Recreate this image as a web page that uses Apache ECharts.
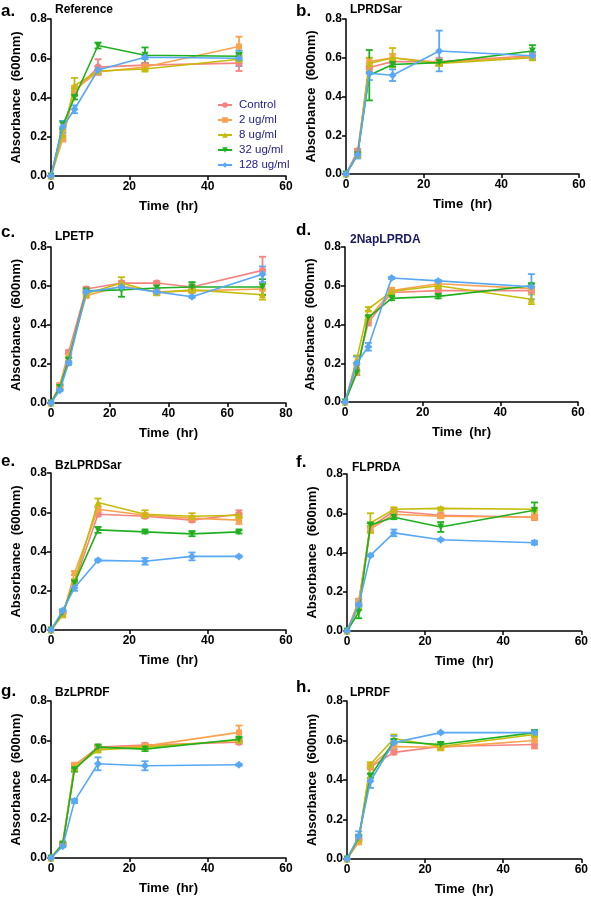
<!DOCTYPE html>
<html><head><meta charset="utf-8">
<script src="https://cdn.jsdelivr.net/npm/echarts@6/dist/echarts.min.js"></script>
<style>html,body{margin:0;padding:0;background:#fff}#c{width:591px;height:897px}</style>
</head><body><div id="c"></div>
<script>
const seriesNames = ['Control','2 ug/ml','8 ug/ml','32 ug/ml','128 ug/ml'];
const seriesColors = ['#F5837F','#FBA24F','#C4BC0A','#1FB01F','#58A8F5'];
const seriesSymbols = ['circle','rect','triangle','triangle','diamond'];
const symbolRotations = [0,0,0,180,0];
const panelLetters = ['a.','b.','c.','d.','e.','f.','g.','h.'];
const panelTitles = ['Reference','LPRDSar','LPETP','2NapLPRDA','BzLPRDSar','FLPRDA','BzLPRDF','LPRDF'];

const times6 = [0,3,6,12,24,48];
const times7 = [0,3,6,12,24,36,48];
const times8 = [0,3,6,12,24,36,48,72];

// a. Reference
const refMean = [
  [0,0.20,0.43,0.555,0.565,0.575],
  [0,0.19,0.44,0.53,0.555,0.66],
  [0,0.21,0.46,0.535,0.545,0.595],
  [0,0.26,0.40,0.665,0.615,0.61],
  [0,0.25,0.34,0.54,0.605,0.60]];
const refErr = [
  [0,0.02,0.02,0.04,0.01,0.04],
  [0,0.015,0.02,0.01,0.01,0.05],
  [0,0.02,0.04,0.01,0.01,0.01],
  [0,0.02,0.01,0.015,0.04,0.02],
  [0,0.03,0.02,0.02,0.01,0.04]];
// b. LPRDSar
const lprdsarMean = [
  [0,0.12,0.55,0.58,0.58,0.61],
  [0,0.10,0.58,0.60,0.575,0.605],
  [0,0.10,0.57,0.60,0.57,0.60],
  [0,0.10,0.51,0.565,0.575,0.635],
  [0,0.10,0.52,0.51,0.635,0.61]];
const lprdsarErr = [
  [0,0.01,0.02,0.01,0.02,0.015],
  [0,0.01,0.02,0.02,0.01,0.01],
  [0,0.01,0.03,0.05,0.01,0.01],
  [0,0.01,0.13,0.01,0.015,0.03],
  [0,0.02,0.035,0.03,0.105,0.02]];
// c. LPETP
const lpetpMean = [
  [0,0.09,0.26,0.585,0.615,0.615,0.595,0.68],
  [0,0.09,0.24,0.55,0.60,0.57,0.575,0.585],
  [0,0.08,0.22,0.56,0.615,0.565,0.58,0.555],
  [0,0.08,0.22,0.575,0.58,0.59,0.595,0.595],
  [0,0.065,0.205,0.57,0.595,0.57,0.545,0.66]];
const lpetpErr = [
  [0,0.01,0.01,0.01,0.01,0.01,0.01,0.07],
  [0,0.01,0.01,0.01,0.01,0.015,0.01,0.03],
  [0,0.01,0.01,0.01,0.03,0.01,0.01,0.025],
  [0,0.01,0.01,0.01,0.035,0.025,0.025,0.04],
  [0,0.005,0.01,0.01,0.01,0.01,0.005,0.04]];
// d. 2NapLPRDA
const napMean = [
  [0,0.17,0.41,0.565,0.575,0.575],
  [0,0.15,0.43,0.575,0.61,0.585],
  [0,0.22,0.48,0.57,0.60,0.53],
  [0,0.15,0.435,0.535,0.545,0.60],
  [0,0.20,0.285,0.64,0.625,0.595]];
const napErr = [
  [0,0.02,0.015,0.01,0.01,0.01],
  [0,0.01,0.01,0.015,0.01,0.01],
  [0,0.02,0.01,0.01,0.01,0.025],
  [0,0.01,0.01,0.01,0.01,0.01],
  [0,0.035,0.02,0.005,0.005,0.065]];
// e. BzLPRDSar
const bzsarMean = [
  [0,0.09,0.24,0.59,0.58,0.56,0.59],
  [0,0.075,0.29,0.615,0.585,0.57,0.56],
  [0,0.08,0.25,0.65,0.59,0.58,0.585],
  [0,0.09,0.24,0.51,0.50,0.49,0.50],
  [0,0.10,0.215,0.355,0.35,0.375,0.375]];
const bzsarErr = [
  [0,0.005,0.01,0.01,0.01,0.01,0.02],
  [0,0.01,0.01,0.01,0.01,0.01,0.02],
  [0,0.005,0.01,0.02,0.02,0.015,0.01],
  [0,0.005,0.01,0.015,0.008,0.012,0.008],
  [0,0.005,0.015,0.005,0.017,0.02,0.005]];
// f. FLPRDA
const flprdaMean = [
  [0,0.15,0.53,0.61,0.59,0.58],
  [0,0.15,0.52,0.595,0.585,0.58],
  [0,0.12,0.55,0.62,0.625,0.62],
  [0,0.095,0.54,0.58,0.53,0.615],
  [0,0.135,0.385,0.50,0.465,0.45]];
const flprdaErr = [
  [0,0.01,0.02,0.01,0.01,0.01],
  [0,0.015,0.015,0.01,0.01,0.015],
  [0,0.01,0.05,0.01,0.005,0.005],
  [0,0.03,0.01,0.01,0.025,0.04],
  [0,0.01,0.005,0.017,0.005,0.01]];
// g. BzLPRDF
const bzfMean = [
  [0,0.07,0.47,0.565,0.575,0.59],
  [0,0.075,0.475,0.56,0.57,0.64],
  [0,0.075,0.46,0.55,0.565,0.60],
  [0,0.07,0.45,0.565,0.555,0.605],
  [0,0.06,0.29,0.48,0.47,0.475]];
const bzfErr = [
  [0,0.005,0.01,0.01,0.01,0.01],
  [0,0.005,0.01,0.01,0.01,0.035],
  [0,0.005,0.01,0.01,0.01,0.01],
  [0,0.005,0.01,0.01,0.01,0.01],
  [0,0.005,0.01,0.033,0.023,0.005]];
// h. LPRDF
const lprdfMean = [
  [0,0.10,0.465,0.54,0.57,0.58],
  [0,0.085,0.47,0.57,0.565,0.60],
  [0,0.10,0.48,0.61,0.57,0.63],
  [0,0.11,0.42,0.595,0.58,0.64],
  [0,0.115,0.395,0.59,0.64,0.64]];
const lprdfErr = [
  [0,0.01,0.01,0.01,0.01,0.02],
  [0,0.01,0.01,0.01,0.01,0.035],
  [0,0.01,0.01,0.02,0.02,0.01],
  [0,0.01,0.01,0.01,0.01,0.01],
  [0,0.025,0.035,0.033,0.005,0.01]];

const xMaxes = [60,60,80,60,60,60,60,60];

const panels = [
  {t: times6, m: refMean, e: refErr},
  {t: times6, m: lprdsarMean, e: lprdsarErr},
  {t: times8, m: lpetpMean, e: lpetpErr},
  {t: times6, m: napMean, e: napErr},
  {t: times7, m: bzsarMean, e: bzsarErr},
  {t: times6, m: flprdaMean, e: flprdaErr},
  {t: times6, m: bzfMean, e: bzfErr},
  {t: times6, m: lprdfMean, e: lprdfErr}];

// layout (px)
const gridRects = [
  {left:51, top:19, width:235, height:157},
  {left:346, top:19, width:233, height:155},
  {left:51, top:247, width:235, height:156},
  {left:345, top:247, width:233, height:155},
  {left:51, top:473, width:235, height:157},
  {left:347, top:474, width:235, height:157},
  {left:51, top:701, width:235, height:157},
  {left:347, top:701, width:235, height:158}];
const letterPos = [[1,3],[296,3],[1,224],[296,222],[1,453],[296,454],[1,683],[296,679]];
const titlePos = [[55,4],[350,4],[55,231],[350,234],[55,460],[352,462],[55,687],[350,687]];

const FONT = '"Liberation Sans", Arial, sans-serif';
const chart = echarts.init(document.getElementById('c'), null, {renderer:'canvas'});

const grids = [], xAxes = [], yAxes = [], series = [], graphics = [];
gridRects.forEach((g, i) => {
  grids.push(Object.assign({containLabel:false}, g));
  xAxes.push({
    type:'value', gridIndex:i, min:0, max:xMaxes[i], interval:20,
    name:'Time  (hr)', nameLocation:'middle', nameGap:24,
    nameTextStyle:{fontFamily:FONT, fontWeight:'bold', fontSize:13, color:'#000'},
    axisLine:{onZero:false, lineStyle:{color:'#000', width:1.5}},
    axisTick:{show:true, inside:false, length:4, lineStyle:{color:'#000', width:1.5}},
    axisLabel:{fontFamily:FONT, fontWeight:'bold', fontSize:12, color:'#000', margin:5},
    splitLine:{show:false}
  });
  yAxes.push({
    type:'value', gridIndex:i, min:0, max:0.8, interval:0.2,
    name:'Absorbance  (600nm)', nameLocation:'middle', nameGap:28,
    nameTextStyle:{fontFamily:FONT, fontWeight:'bold', fontSize:13, color:'#000'},
    axisLine:{show:true, onZero:false, lineStyle:{color:'#000', width:1.5}},
    axisTick:{show:true, inside:false, length:4, lineStyle:{color:'#000', width:1.5}},
    axisLabel:{fontFamily:FONT, fontWeight:'bold', fontSize:12, color:'#000', margin:4,
      formatter:v=>v.toFixed(1)},
    splitLine:{show:false}
  });
  graphics.push({type:'text', left:letterPos[i][0], top:letterPos[i][1],
    style:{text:panelLetters[i], font:'bold 17px '+FONT, fill:'#000'}});
  graphics.push({type:'text', left:titlePos[i][0], top:titlePos[i][1],
    style:{text:panelTitles[i], font:'bold 12px '+FONT, fill: i===3 ? '#1a1a60' : '#000'}});

  const p = panels[i];
  for (let s = 0; s < 5; s++) {
    const lineData = p.t.map((t, k) => [t, p.m[s][k]]);
    const errData = p.t.map((t, k) => [t, p.m[s][k], p.e[s][k]]);
    series.push({
      type:'line', name:seriesNames[s], xAxisIndex:i, yAxisIndex:i,
      data:lineData, z:3 + s * 0.1,
      symbol:seriesSymbols[s], symbolRotate:symbolRotations[s],
      symbolSize: s===1 ? 6 : (s===4 ? 8 : 7),
      showAllSymbol:true,
      itemStyle:{color:seriesColors[s]},
      lineStyle:{color:seriesColors[s], width:1.6},
      animation:false
    });
    series.push({
      type:'custom', name:seriesNames[s] + ' err', xAxisIndex:i, yAxisIndex:i,
      data:errData, z:2, silent:true,
      encode:{x:0, y:1},
      itemStyle:{color:seriesColors[s]},
      renderItem:(params, api) => {
        const x = api.value(0), y = api.value(1), e = api.value(2);
        if (!e) return null;
        const top = api.coord([x, y + e]);
        const bot = api.coord([x, y - e]);
        const cw = 3.5;
        const st = {stroke:seriesColors[s], lineWidth:1.8};
        return {type:'group', children:[
          {type:'line', shape:{x1:top[0], y1:top[1], x2:bot[0], y2:bot[1]}, style:st},
          {type:'line', shape:{x1:top[0]-cw, y1:top[1], x2:top[0]+cw, y2:top[1]}, style:st},
          {type:'line', shape:{x1:bot[0]-cw, y1:bot[1], x2:bot[0]+cw, y2:bot[1]}, style:st}
        ]};
      }
    });
  }
});

chart.setOption({
  animation:false,
  backgroundColor:'#fff',
  grid:grids, xAxis:xAxes, yAxis:yAxes, series:series,
  graphic:graphics,
  legend:{
    data:seriesNames.slice(),
    orient:'vertical', left:217, top:99, padding:0, itemGap:3,
    itemWidth:14, itemHeight:7,
    textStyle:{fontFamily:FONT, fontSize:11.5, color:'#22228a', padding:[0,0,0,2]},
    selectedMode:false
  }
});
</script></body></html>
